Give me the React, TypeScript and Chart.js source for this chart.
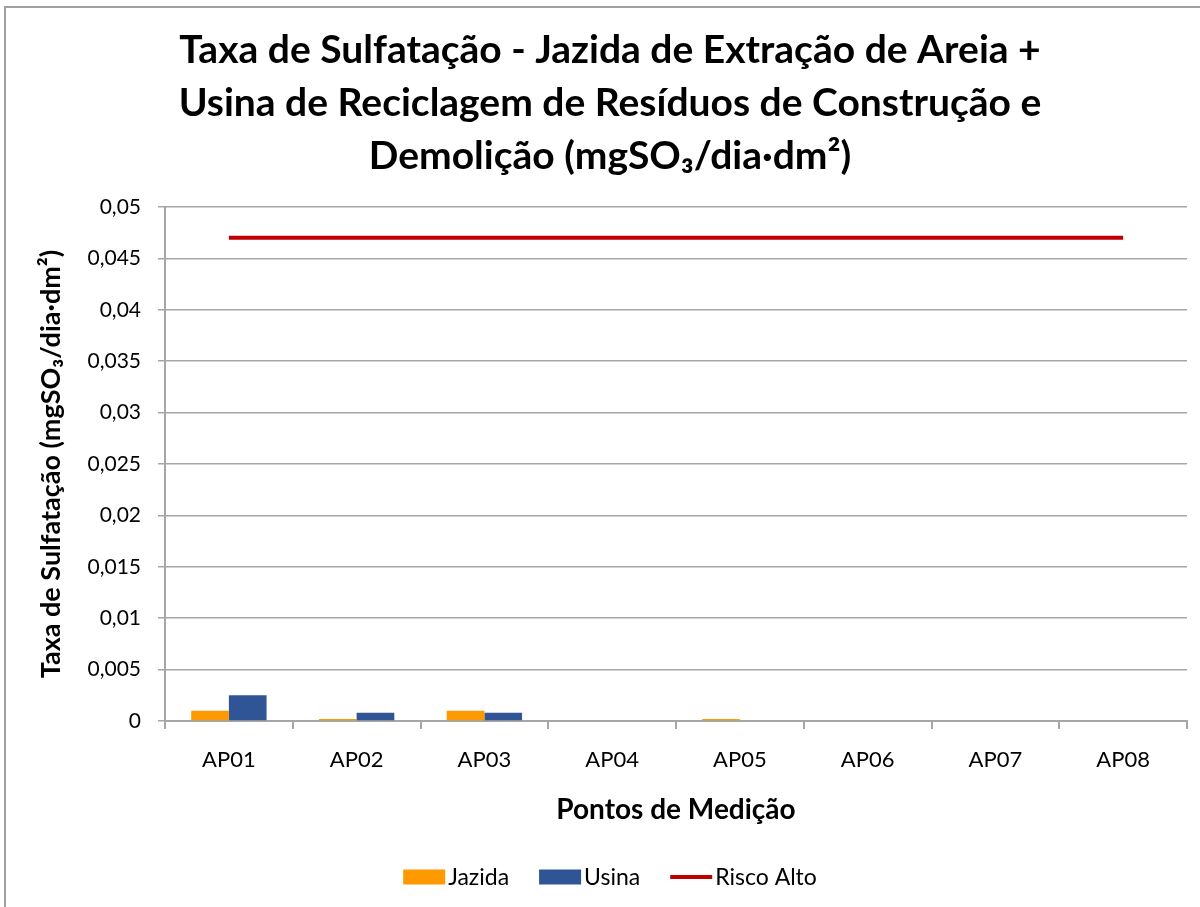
import React, { useEffect, useRef } from "react";
import { Chart, registerables } from "chart.js";

Chart.register(...registerables);

const categories = ["AP01", "AP02", "AP03", "AP04", "AP05", "AP06", "AP07", "AP08"];
const jazida = [0.001, 0.0002, 0.001, 0, 0.0002, 0, 0, 0];
const usina = [0.0025, 0.0008, 0.0008, 0, 0, 0, 0, 0];
const riscoAlto = [0.047, 0.047, 0.047, 0.047, 0.047, 0.047, 0.047, 0.047];
const titleLines = [
  "Taxa de Sulfatação - Jazida de Extração de Areia +",
  "Usina de Reciclagem de Resíduos de Construção e",
  "Demolição (mgSO₃/dia·dm²)",
];
const yTitle = "Taxa de Sulfatação (mgSO₃/dia·dm²)";
const xTitle = "Pontos de Medição";
const yMax = 0.05;
const yStep = 0.005;

const FONT = "Lato, 'Open Sans', sans-serif";
const GRID = "#a6a6a6";

const framePlugin = {
  id: "frame",
  afterDraw(chart: any) {
    const ctx = chart.ctx;
    ctx.save();
    ctx.strokeStyle = "#a0a0a0";
    ctx.lineWidth = 2;
    ctx.beginPath();
    ctx.moveTo(5, 907);
    ctx.lineTo(5, 7);
    ctx.lineTo(1200, 7);
    ctx.stroke();
    ctx.restore();
  },
};

const legendPlugin = {
  id: "customLegend",
  afterDraw(chart: any) {
    const ctx = chart.ctx;
    const ds = chart.data.datasets;
    ctx.save();
    ctx.font = `23px ${FONT}`;
    ctx.textBaseline = "middle";
    ctx.textAlign = "left";
    const boxW = 42;
    const gapText = 3;
    const gapItem = 30;
    const widths = ds.map((d: any) => boxW + gapText + ctx.measureText(d.label).width);
    const total = widths.reduce((a: number, b: number) => a + b, 0) + gapItem * (ds.length - 1);
    let x = 610 - total / 2;
    const y = 877;
    ds.forEach((d: any, i: number) => {
      if (d.type === "line") {
        ctx.strokeStyle = d.borderColor;
        ctx.lineWidth = 4;
        ctx.beginPath();
        ctx.moveTo(x, y);
        ctx.lineTo(x + boxW, y);
        ctx.stroke();
      } else {
        ctx.fillStyle = d.backgroundColor;
        ctx.fillRect(x, y - 7.5, boxW, 15);
      }
      ctx.fillStyle = "#000";
      ctx.fillText(d.label, x + boxW + gapText, y + 1);
      x += widths[i] + gapItem;
    });
    ctx.restore();
  },
};

export default function App() {
  const ref = useRef<HTMLCanvasElement>(null);
  useEffect(() => {
    const chart = new Chart(ref.current as HTMLCanvasElement, {
      type: "bar",
      data: {
        labels: categories,
        datasets: [
          {
            type: "bar",
            label: "Jazida",
            data: jazida,
            backgroundColor: "#FF9900",
            categoryPercentage: 0.59,
            barPercentage: 1,
            order: 2,
          },
          {
            type: "bar",
            label: "Usina",
            data: usina,
            backgroundColor: "#2F5597",
            categoryPercentage: 0.59,
            barPercentage: 1,
            order: 2,
          },
          {
            type: "line",
            label: "Risco Alto",
            data: riscoAlto,
            borderColor: "#C00000",
            backgroundColor: "#C00000",
            borderWidth: 4,
            pointRadius: 0,
            pointHoverRadius: 0,
            order: 1,
          } as any,
        ],
      },
      options: {
        animation: false,
        responsive: false,
        maintainAspectRatio: false,
        layout: { padding: { left: 33, right: 13, top: 0, bottom: 60 } },
        plugins: {
          legend: { display: false },
          tooltip: { enabled: false },
          title: {
            display: true,
            text: titleLines,
            color: "#000",
            font: { family: FONT, size: 39, weight: "bold", lineHeight: 53 / 39 },
            padding: { top: 23.5, bottom: 24.5 },
          },
        },
        scales: {
          x: {
            afterFit(scale: any) {
              scale.height = 126;
            },
            grid: {
              display: true,
              drawOnChartArea: false,
              drawTicks: true,
              tickLength: 8,
              color: GRID,
              lineWidth: 2,
            },
            border: { display: true, color: GRID, width: 2 },
            ticks: {
              color: "#000",
              font: { family: FONT, size: 22 },
              padding: 18,
              maxRotation: 0,
            },
            title: {
              display: true,
              text: xTitle,
              color: "#000",
              font: { family: FONT, size: 28, weight: "bold" },
              padding: { top: 0, bottom: 20 },
            },
          },
          y: {
            min: 0,
            max: yMax,
            afterFit(scale: any) {
              scale.width = 132;
            },
            grid: {
              color: GRID,
              lineWidth: 1.5,
              drawTicks: true,
              tickLength: 7,
            },
            border: { display: true, color: GRID, width: 2 },
            ticks: {
              stepSize: yStep,
              color: "#000",
              font: { family: FONT, size: 21 },
              padding: 17,
              callback: (v: any) => String(Number(Number(v).toFixed(4))).replace(".", ","),
            },
            title: {
              display: true,
              text: yTitle,
              color: "#000",
              font: { family: FONT, size: 27, weight: "bold" },
              padding: { top: 2, bottom: 0 },
            },
          },
        },
      },
      plugins: [framePlugin, legendPlugin],
    });
    return () => chart.destroy();
  }, []);
  return (
    <div style={{ position: "absolute", left: 0, top: 0, width: 1200, height: 907, background: "#fff" }}>
      <canvas ref={ref} width={1200} height={907} style={{ width: 1200, height: 907, display: "block" }} />
    </div>
  );
}
